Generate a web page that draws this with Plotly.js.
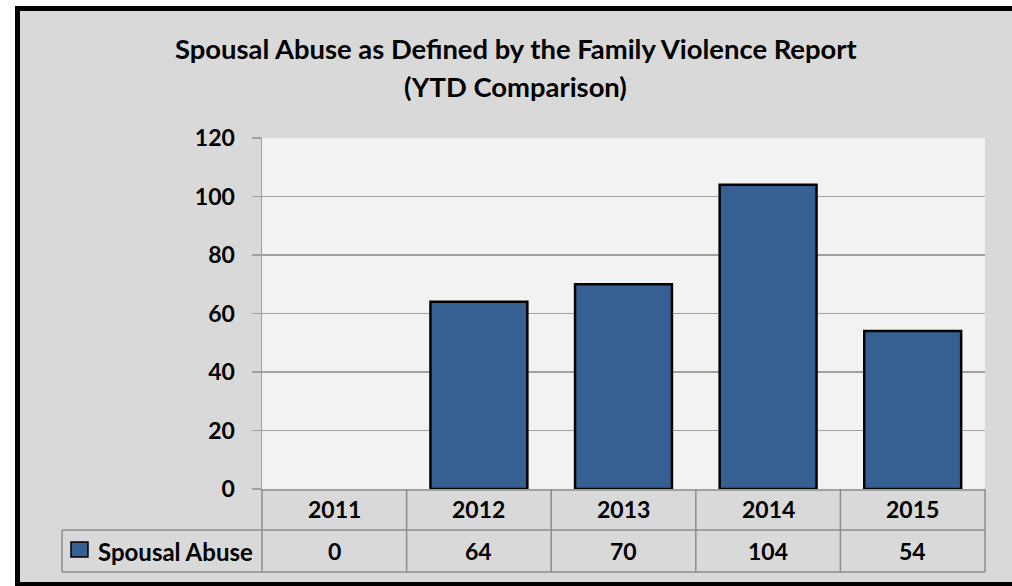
<!DOCTYPE html>
<html>
<head>
<meta charset="utf-8">
<script src="https://cdn.plot.ly/plotly-3.0.1.min.js"></script>
<style>
  html, body { margin: 0; padding: 0; background: #ffffff; width: 1012px; height: 586px; overflow: hidden; }
  #frame { position: absolute; left: 15px; top: 6px; width: 1000px; height: 571px;
           border-left: 5px solid #000; border-top: 5px solid #000; border-bottom: 4px solid #000;
           background: #d9d9d9; }
  #chart { position: absolute; left: 0; top: 0; width: 992px; height: 571px; }
</style>
</head>
<body>
<div id="frame"><div id="chart"></div></div>
<script>
const titleLines = ['Spousal Abuse as Defined by the Family Violence Report', '(YTD Comparison)'];
const years = ['2011', '2012', '2013', '2014', '2015'];
const seriesName = 'Spousal Abuse';
const spousalAbuse = [0, 64, 70, 104, 54];

const barColor = '#376092';
const gridColor = '#a0a0a0';
const tableLine = '#8c8c8c';
const font = 'Lato, "Open Sans", sans-serif';

const n = years.length;
// Table geometry in paper coordinates
const row1 = -0.1168, row2 = -0.2365;
const legendLeft = -0.2766;
const colEdge = b => b / n;        // boundary b = 0..n
const colMid = i => (i + 0.5) / n;

const shapes = [];
const ln = {color: tableLine, width: 1.5};
shapes.push({type: 'line', xref: 'paper', yref: 'paper', x0: legendLeft, x1: 1, y0: row1, y1: row1, line: ln});
shapes.push({type: 'line', xref: 'paper', yref: 'paper', x0: legendLeft, x1: 1, y0: row2, y1: row2, line: ln});
shapes.push({type: 'line', xref: 'paper', yref: 'paper', x0: legendLeft, x1: legendLeft, y0: row1, y1: row2, line: ln});
for (let b = 0; b <= n; b++) {
  shapes.push({type: 'line', xref: 'paper', yref: 'paper', x0: colEdge(b), x1: colEdge(b), y0: 0, y1: row2, line: ln});
}
// legend key square
shapes.push({type: 'rect', xref: 'paper', yref: 'paper', x0: -0.2642, x1: -0.2407, y0: -0.151, y1: -0.1937,
             fillcolor: barColor, line: {color: '#000', width: 1.5}});

const tfont = {family: font, size: 23, color: '#000'};
const annotations = [];
annotations.push({xref: 'paper', yref: 'paper', x: 0.3513, y: 1.2564, text: '<b>' + titleLines[0] + '</b>', showarrow: false,
                  font: {family: font, size: 27.4, color: '#000'}, xanchor: 'center', yanchor: 'middle'});
annotations.push({xref: 'paper', yref: 'paper', x: 0.3513, y: 1.1453, text: '<b>' + titleLines[1] + '</b>', showarrow: false,
                  font: {family: font, size: 27.4, color: '#000'}, xanchor: 'center', yanchor: 'middle'});
years.forEach((y, i) => {
  annotations.push({xref: 'paper', yref: 'paper', x: colMid(i), y: row1 / 2, text: '<b>' + y + '</b>', showarrow: false,
                    font: tfont, xanchor: 'center', yanchor: 'middle'});
  annotations.push({xref: 'paper', yref: 'paper', x: colMid(i), y: (row1 + row2) / 2, text: '<b>' + spousalAbuse[i] + '</b>', showarrow: false,
                    font: tfont, xanchor: 'center', yanchor: 'middle'});
});
annotations.push({xref: 'paper', yref: 'paper', x: -0.0095, y: (row1 + row2) / 2, text: '<b>' + seriesName + '</b>', showarrow: false,
                  font: {family: font, size: 24, color: '#000'}, xanchor: 'right', yanchor: 'middle'});

const data = [{
  type: 'bar',
  x: years,
  y: spousalAbuse,
  name: seriesName,
  width: 0.67,
  marker: {color: barColor, line: {color: '#000', width: spousalAbuse.map(v => v === 0 ? 0 : 2.5)}},
  hoverinfo: 'none'
}];

const layout = {
  width: 992, height: 571,
  paper_bgcolor: '#d9d9d9',
  plot_bgcolor: '#f2f2f2',
  margin: {l: 242, r: 27, t: 127, b: 93},
  showlegend: false,
  xaxis: {
    type: 'category',
    range: [-0.5, n - 0.5],
    showticklabels: false,
    ticks: '',
    showgrid: false,
    showline: true, linecolor: gridColor, linewidth: 1.5,
    zeroline: false, fixedrange: true
  },
  yaxis: {
    range: [0, 120], dtick: 20,
    ticks: 'outside', ticklen: 9, tickcolor: gridColor, tickwidth: 1.5,
    showgrid: true, gridcolor: gridColor, gridwidth: 1.5,
    showline: true, linecolor: gridColor, linewidth: 1.5,
    zeroline: false,
    ticklabelstandoff: 12,
    tickfont: {family: font, size: 23, color: '#000', weight: 'bold'},
    fixedrange: true
  },
  shapes: shapes,
  annotations: annotations
};

Plotly.newPlot('chart', data, layout, {staticPlot: true, displayModeBar: false});
</script>
</body>
</html>
